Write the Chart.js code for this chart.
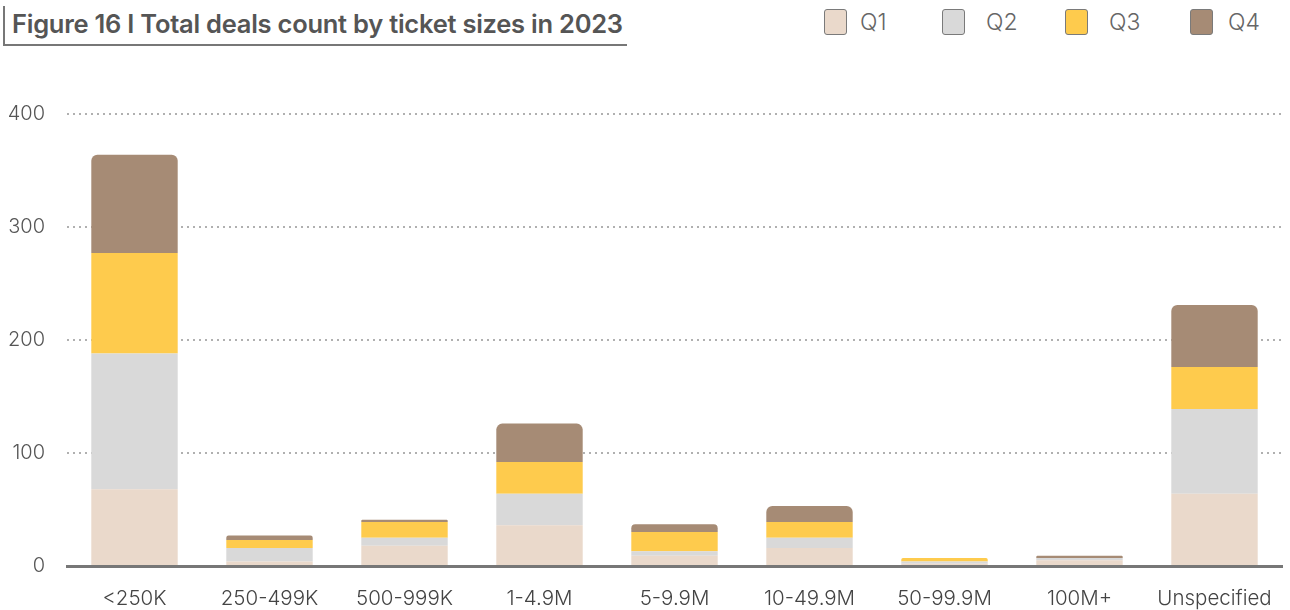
<!DOCTYPE html>
<html>
<head>
<meta charset="utf-8">
<script src="https://cdn.jsdelivr.net/npm/chart.js@4"></script>
<style>
  body { margin: 0; background: #fff; font-family: Inter, "Open Sans", sans-serif; }
  #wrap { position: relative; width: 1290px; height: 610px; overflow: hidden; }
  #title {
    position: absolute; left: 3px; top: 6px; width: 615px; height: 38px;
    border-left: 2px solid #777; border-bottom: 2px solid #777;
    padding-left: 7px; font-size: 25.5px; font-weight: 600; color: #555;
    line-height: 36px; letter-spacing: -0.25px; white-space: nowrap;
  }
  .box { position: absolute; top: 9px; width: 21px; height: 24px; border: 1.5px solid #7a7a7a; border-radius: 3px; }
  .lab { position: absolute; top: 8px; line-height: 28px; font-size: 23px; color: #666; font-weight: 300; }
  #chartBox { position: absolute; left: 0; top: 80px; width: 1290px; height: 530px; }
</style>
</head>
<body>
<div id="wrap">
  <div id="title">Figure 16 I Total deals count by ticket sizes in 2023</div>
  <div id="legend"></div>
  <div id="chartBox"><canvas id="chart"></canvas></div>
</div>
<script>
const categories = ["<250K", "250-499K", "500-999K", "1-4.9M", "5-9.9M", "10-49.9M", "50-99.9M", "100M+", "Unspecified"];
const q1 = [68, 4, 18, 36, 9, 16, 2, 5, 64];
const q2 = [120, 12, 7, 28, 4, 9, 2, 2, 75];
const q3 = [89, 7, 14, 28, 17, 14, 3, 0, 37];
const q4 = [87, 4, 2, 34, 7, 14, 0, 2, 55];
const seriesNames = ["Q1", "Q2", "Q3", "Q4"];
const colors = ["#EAD9CB", "#D9D9D9", "#FECB4D", "#A68B75"];
const boxX = [824, 942, 1065, 1190];
const labelX = [860, 986, 1109, 1228];

// legend
const legend = document.getElementById("legend");
seriesNames.forEach((name, i) => {
  legend.innerHTML += `<span class="box" style="left:${boxX[i]}px;background:${colors[i]}"></span>` +
    `<span class="lab" style="left:${labelX[i]}px">${name}</span>`;
});

const values = [q1, q2, q3, q4];

new Chart(document.getElementById("chart"), {
  type: "bar",
  data: {
    labels: categories,
    datasets: seriesNames.map((name, i) => ({
      label: name,
      data: values[i],
      backgroundColor: colors[i],
      borderRadius: 6,
      barPercentage: 0.8,
      categoryPercentage: 0.8
    }))
  },
  options: {
    responsive: true,
    maintainAspectRatio: false,
    animation: false,
    layout: { padding: { top: 13, right: 8, bottom: 0, left: 0 } },
    plugins: { legend: { display: false }, tooltip: { enabled: false } },
    scales: {
      x: {
        stacked: true,
        grid: { display: false, drawTicks: false },
        border: { display: true, color: "#777", width: 3 },
        ticks: { color: "#444", padding: 21, font: { family: "Inter", size: 20.5, weight: 300 } },
        afterFit: s => { s.height = 44; s.paddingLeft = 0; s.paddingRight = 0; }
      },
      y: {
        stacked: true,
        min: 0,
        max: 400,
        ticks: { stepSize: 100, color: "#555", padding: 22, font: { family: "Inter", size: 20, weight: 300 } },
        grid: {
          drawTicks: false,
          lineWidth: 2,
          color: c => c.tick && c.tick.value === 0 ? "rgba(0,0,0,0)" : "#b0b0b0"
        },
        border: { display: false, dash: [2, 4] },
        afterFit: s => { s.width = 67; }
      }
    }
  }
});
</script>
</body>
</html>
